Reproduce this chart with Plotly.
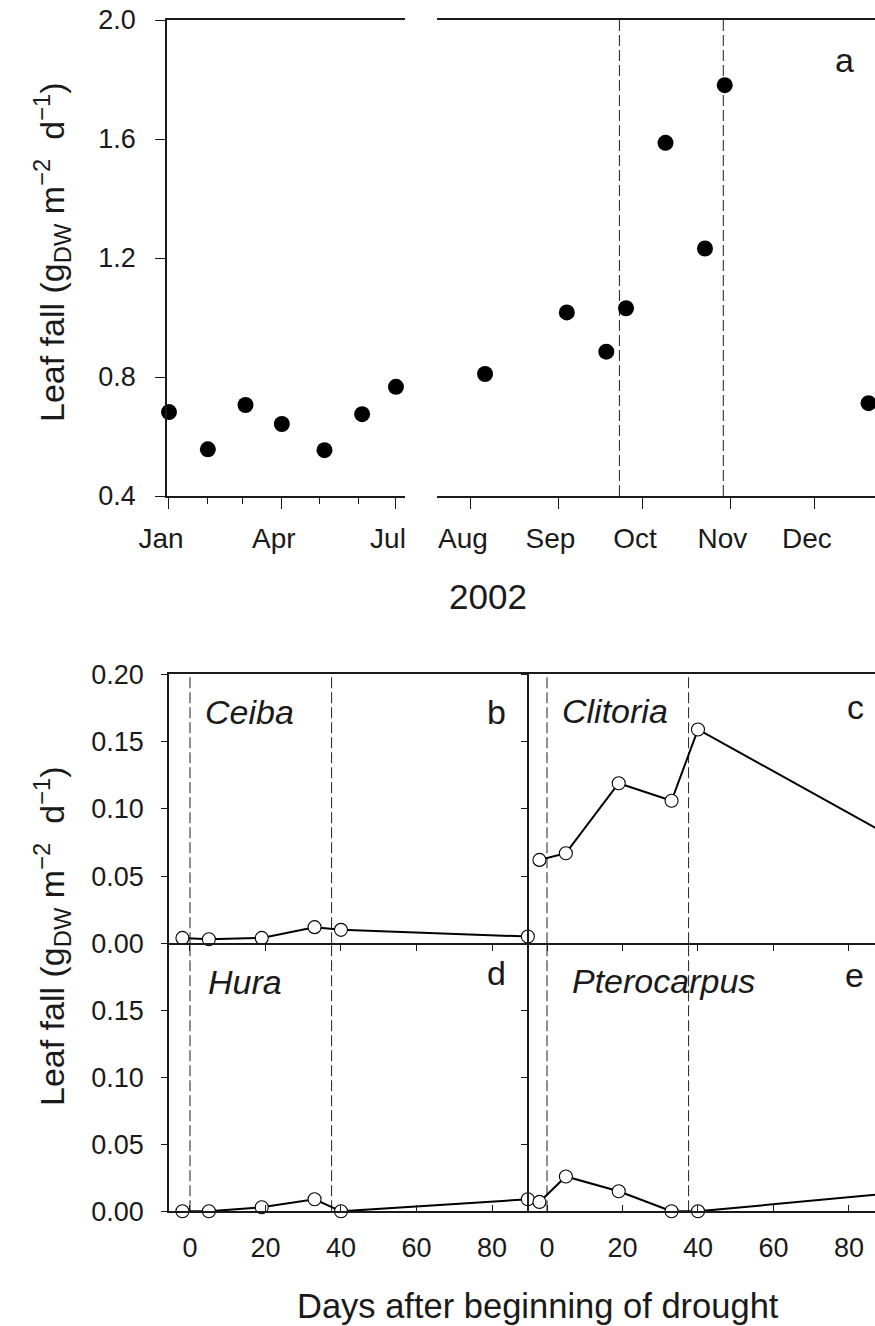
import plotly.graph_objects as go

# ---------------- data ----------------
# panel a: community leaf fall, 2002
dates_a = ["2002-01-01", "2002-02-01", "2002-03-03", "2002-04-01", "2002-05-05",
           "2002-06-04", "2002-07-01", "2002-08-06", "2002-09-04", "2002-09-18",
           "2002-09-25", "2002-10-09", "2002-10-23", "2002-10-30", "2002-12-20"]
leaf_a = [0.682, 0.557, 0.706, 0.642, 0.554, 0.675, 0.767, 0.810, 1.017, 0.885,
          1.031, 1.587, 1.232, 1.781, 0.712]
drought_dates = ["2002-09-22 16:00", "2002-10-29 12:00"]

# panels b-e: species leaf fall vs days after beginning of drought
days = [-2, 5, 19, 33, 40, 89.5]
ceiba = [0.004, 0.003, 0.004, 0.012, 0.010, 0.005]
clitoria = [0.062, 0.067, 0.119, 0.106, 0.159, 0.082]
hura = [0.0, 0.0, 0.003, 0.009, 0.0, 0.009]
pterocarpus = [0.007, 0.026, 0.015, 0.0, 0.0, 0.013]
drought_days = [0, 37.5]

a_ticks = [0.4, 0.8, 1.2, 1.6, 2.0]
bc_ticks = [0.0, 0.05, 0.10, 0.15, 0.20]
de_ticks = [0.0, 0.05, 0.10, 0.15]
day_ticks = [0, 20, 40, 60, 80]

# ---------------- layout helpers ----------------
W, H = 875, 1326
FONT = "Liberation Sans, Arial, Helvetica, sans-serif"
INK = "#1a1a1a"


def px(x):
    return x / W


def py(y):
    return 1 - y / H


fig = go.Figure()

left = [(d, v) for d, v in zip(dates_a, leaf_a) if d < "2002-07-15"]
right = [(d, v) for d, v in zip(dates_a, leaf_a) if d >= "2002-07-15"]
mk_a = dict(size=16, color="black", line=dict(width=0))
fig.add_trace(go.Scatter(x=[d for d, _ in left], y=[v for _, v in left], mode="markers",
                         marker=mk_a, xaxis="x", yaxis="y", cliponaxis=False, showlegend=False))
fig.add_trace(go.Scatter(x=[d for d, _ in right], y=[v for _, v in right], mode="markers",
                         marker=mk_a, xaxis="x2", yaxis="y", cliponaxis=False, showlegend=False))

mk_b = dict(size=13, color="white", line=dict(width=1.1, color="black"))
for xa, ya, vals in [("x3", "y3", ceiba), ("x4", "y4", clitoria),
                     ("x5", "y5", hura), ("x6", "y6", pterocarpus)]:
    fig.add_trace(go.Scatter(x=days, y=vals, mode="lines+markers", marker=mk_b,
                             line=dict(color="black", width=2), xaxis=xa, yaxis=ya,
                             cliponaxis=False, showlegend=False))

tickfont = dict(family=FONT, size=27, color=INK)
monthfont = dict(family=FONT, size=28, color=INK)
common = dict(showline=True, linecolor=INK, linewidth=1.5, showgrid=False, zeroline=False,
              tickcolor=INK, tickwidth=1.2, tickfont=tickfont, automargin=False)

# panel a axes
fig.update_layout(
    xaxis=dict(**common, domain=[px(167), px(405)], anchor="y", type="date",
               range=["2001-12-30 10:00", "2002-07-08 05:00"], tick0="2002-01-01",
               dtick="M3", tickformat="%b", ticks="outside", ticklen=11, mirror=True,
               ticklabelshift=-8, ticklabelstandoff=6,
               minor=dict(dtick="M1", tick0="2002-01-01", ticks="outside", ticklen=6,
                          tickcolor=INK, tickwidth=1.2, showgrid=False)),
    xaxis2=dict(**common, domain=[px(437), 1.0], anchor="y", type="date",
                range=["2002-07-19 23:00", "2002-12-22 07:00"], tick0="2002-08-01",
                dtick="M1", tickformat="%b", ticks="outside", ticklen=11, mirror=True,
                ticklabelshift=-8, ticklabelstandoff=6),
    yaxis=dict(**common, domain=[py(496), py(20)], anchor="x", range=[0.4, 2.0],
               tickvals=a_ticks, tickformat=".1f", ticks="outside", ticklen=10,
               ticklabelstandoff=14),
)
fig.layout.xaxis.tickfont = monthfont
fig.layout.xaxis2.tickfont = monthfont

xr_left = [-5.56, 89.67]
xr_right = [-4.9, 86.9]
ytop_dom = [py(943.3), py(674.3)]
ybot_dom = [py(1211.3), py(943.3)]
fig.update_layout(
    xaxis3=dict(**common, domain=[px(169), px(528.5)], anchor="y3", range=xr_left,
                tickvals=day_ticks, showticklabels=False, ticks="outside", ticklen=6, mirror=True),
    xaxis4=dict(**common, domain=[px(528.5), 1.0], anchor="y4", range=xr_right,
                tickvals=day_ticks, showticklabels=False, ticks="outside", ticklen=6, mirror=True),
    xaxis5=dict(**common, domain=[px(169), px(528.5)], anchor="y5", range=xr_left,
                tickvals=day_ticks, ticks="inside", ticklen=7, ticklabelstandoff=12),
    xaxis6=dict(**common, domain=[px(528.5), 1.0], anchor="y6", range=xr_right,
                tickvals=day_ticks, ticks="inside", ticklen=7, ticklabelstandoff=12),
    yaxis3=dict(**common, domain=ytop_dom, anchor="x3", range=[0, 0.2], tickvals=bc_ticks,
                tickformat=".2f", ticks="outside", ticklen=6, ticklabelstandoff=12),
    yaxis4=dict(**common, domain=ytop_dom, anchor="x4", range=[0, 0.2], tickvals=bc_ticks,
                showticklabels=False, ticks="outside", ticklen=6),
    yaxis5=dict(**common, domain=ybot_dom, anchor="x5", range=[0, 0.2], tickvals=de_ticks,
                tickformat=".2f", ticks="outside", ticklen=6, ticklabelstandoff=12),
    yaxis6=dict(**common, domain=ybot_dom, anchor="x6", range=[0, 0.2], tickvals=de_ticks,
                showticklabels=False, ticks="outside", ticklen=6),
)

# dashed drought markers
dash_line = dict(color="#333333", width=1.1, dash="11px,4px")
shapes = []
for d in drought_dates:
    shapes.append(dict(type="line", xref="x2", yref="y domain", x0=d, x1=d, y0=0, y1=1,
                       line=dash_line, layer="below"))
for xa, ya in [("x3", "y3"), ("x4", "y4"), ("x5", "y5"), ("x6", "y6")]:
    for d in drought_days:
        shapes.append(dict(type="line", xref=xa, yref=ya + " domain", x0=d, x1=d, y0=0, y1=1,
                           line=dash_line, layer="below"))
fig.update_layout(shapes=shapes)

ytitle = "Leaf fall (g<sub>DW</sub> m<sup>−2</sup>  d<sup>−1</sup>)"
ann = []


def text(x, y, s, size, **kw):
    ann.append(dict(x=px(x), y=py(y), xref="paper", yref="paper", text=s, showarrow=False,
                    xanchor=kw.get("xanchor", "center"), yanchor="middle",
                    textangle=kw.get("angle", 0),
                    font=dict(family=FONT, size=size, color=INK)))


text(844, 60, "a", 34)
text(488, 597, "2002", 35)
text(52, 252, ytitle, 34, angle=-90)
text(52, 936, ytitle, 34, angle=-90)
text(538, 1306, "Days after beginning of drought", 34.5)
text(249, 712, "<i>Ceiba</i>", 34)
text(615, 711, "<i>Clitoria</i>", 34)
text(245, 982, "<i>Hura</i>", 34)
text(663, 981, "<i>Pterocarpus</i>", 34)
text(497, 712, "b", 34)
text(855, 707, "c", 34)
text(497, 973, "d", 34)
text(854, 975, "e", 34)
fig.update_layout(annotations=ann)

fig.update_layout(width=W, height=H, margin=dict(l=0, r=0, t=0, b=0, pad=0),
                  paper_bgcolor="white", plot_bgcolor="white",
                  font=dict(family=FONT, color=INK), showlegend=False)

fig.write_html("out.html")
